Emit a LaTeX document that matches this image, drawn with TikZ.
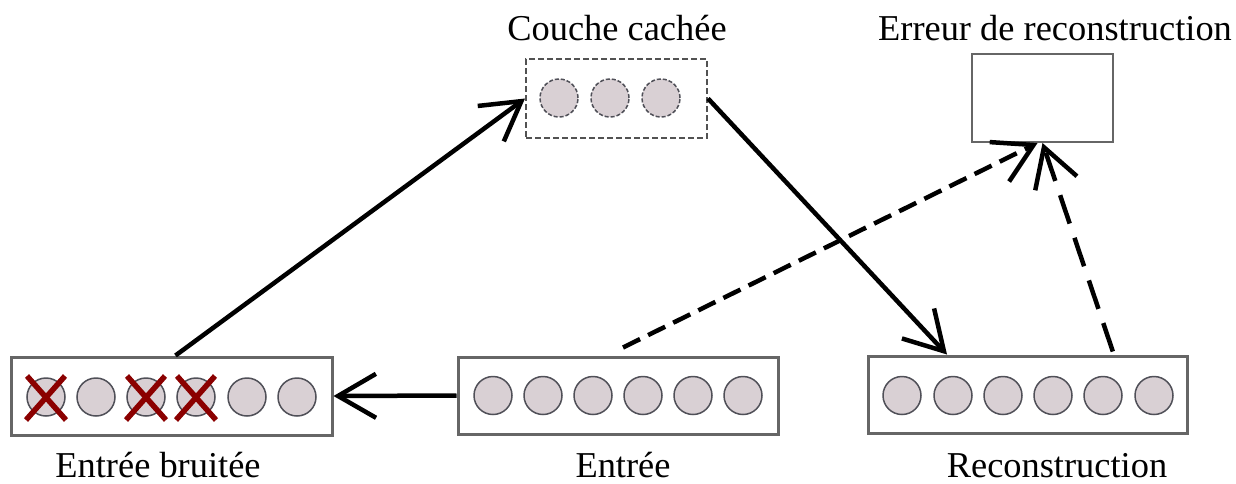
\documentclass[tikz,border=0pt]{standalone}
\usepackage{fontspec}
\setmainfont{Liberation Serif}
\usetikzlibrary{arrows.meta,calc}
\definecolor{circfill}{HTML}{D9D0D4}
\definecolor{circdraw}{HTML}{505058}
\definecolor{boxdraw}{HTML}{666666}
\definecolor{xred}{HTML}{8B0000}
\begin{document}
\begin{tikzpicture}[x=1pt,y=-1pt,
  lbl/.style={font=\fontsize{36.4}{40}\selectfont, anchor=base, inner sep=0},
  layerbox/.style={draw=boxdraw, line width=3pt, fill=white, rectangle, inner sep=0},
  hidbox/.style={draw=boxdraw!80!black, line width=2pt, dash pattern=on 6pt off 3pt, rectangle, inner sep=0, fill=white},
  errbox/.style={draw=boxdraw, line width=2pt, rectangle, inner sep=0, fill=white},
  unit/.style={circle, draw=circdraw, line width=1.5pt, fill=circfill, minimum size=38pt, inner sep=0},
  hunit/.style={unit, dash pattern=on 4pt off 2pt},
  conn/.style={line width=4.5pt, -{Straight Barb[length=38pt,width=44pt,line width=4.5pt]}},
  shortdash/.style={conn, dash pattern=on 19pt off 9pt},
  longdash/.style={conn, dash pattern=on 30pt off 15pt},
  cross/.style={draw=xred, line width=5.5pt}
]
\useasboundingbox (0,0) rectangle (1236,483);

% boxes
\node[layerbox, minimum width=321pt, minimum height=78pt] (lb) at (171.5,396) {};
\node[layerbox, minimum width=320pt, minimum height=77pt] (ent) at (618,395.5) {};
\node[layerbox, minimum width=319pt, minimum height=77pt] (rec) at (1027.5,394.5) {};
\node[hidbox, minimum width=181pt, minimum height=79pt] (hid) at (616.5,98.5) {};
\node[errbox, minimum width=141pt, minimum height=88pt] (err) at (1042.5,98) {};

% units
\foreach \i/\x in {1/46,2/96,3/146,4/196,5/247,6/297}
  \node[unit] (l\i) at (\x,397) {};
\foreach \i/\x in {1/493,2/543,3/593,4/643,5/693,6/743}
  \node[unit] (e\i) at (\x,395.5) {};
\foreach \i/\x in {1/902,2/953,3/1003,4/1053,5/1103,6/1154}
  \node[unit] (r\i) at (\x,395.5) {};
\foreach \i/\x in {1/559,2/610,3/661}
  \node[hunit] (h\i) at (\x,98) {};

% crosses
\foreach \n in {l1,l3,l4} {
  \draw[cross] ([shift={(-19,-21)}]\n.center) -- ([shift={(20,23)}]\n.center);
  \draw[cross] ([shift={(19,-21)}]\n.center) -- ([shift={(-20,23)}]\n.center);
}

% labels
\node[lbl] (tlb) at (158,477) {Entrée bruitée};
\node[lbl] (tent) at (623,477) {Entrée};
\node[lbl] (trec) at (1057,477) {Reconstruction};
\node[lbl] (thid) at (617,40) {Couche cachée};
\node[lbl] (terr) at (1055,40) {Erreur de reconstruction};

% connectors
\draw[conn] ([xshift=4]lb.north) -- (hid.west);
\draw[conn] (hid.east) -- ($(rec.north west)!0.25!(rec.north east)$);
\draw[conn] (ent.west) -- (lb.east);
\draw[shortdash] ([shift={(5,-8)}]ent.north) -- ([xshift=-5]err.south);
\draw[longdash] ($(rec.north west)!0.765!(rec.north east)+(0,-3)$) -- (err.south);
\end{tikzpicture}
\end{document}
